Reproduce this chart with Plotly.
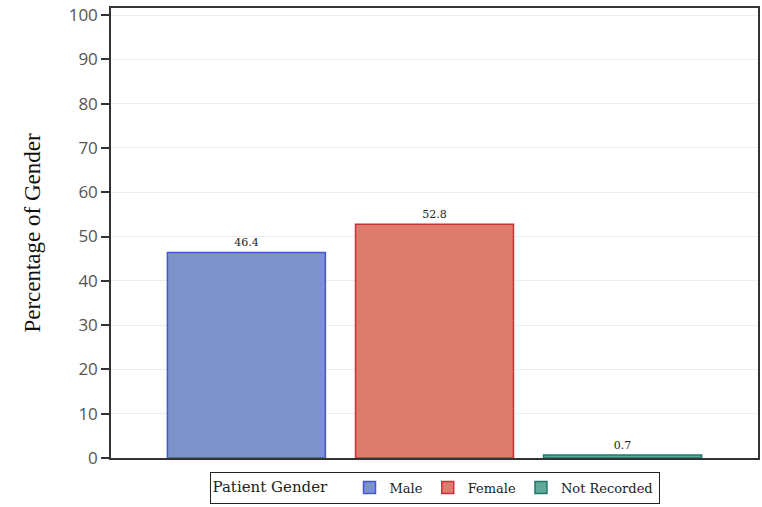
import plotly.graph_objects as go

categories = ["Male", "Female", "Not Recorded"]
percentages = [46.4, 52.8, 0.7]
fill_colors = ["#7b93c9", "#dd7b6c", "#5ea99a"]
line_colors = ["#4453e0", "#c8303a", "#217a68"]
y_ticks = [0, 10, 20, 30, 40, 50, 60, 70, 80, 90, 100]

fig = go.Figure()
for i, (cat, val) in enumerate(zip(categories, percentages)):
    fig.add_trace(go.Bar(
        x=[i], y=[val], name=cat,
        marker=dict(color=fill_colors[i], line=dict(color=line_colors[i], width=1.5)),
        text=[f"{val:.1f}"], textposition="outside", cliponaxis=False,
        textfont=dict(family="DejaVu Serif", size=11, color="#222"),
        width=0.84,
    ))

fig.update_layout(
    width=762, height=507,
    margin=dict(l=111, r=4, t=8, b=49, autoexpand=False),
    plot_bgcolor="white", paper_bgcolor="white",
    barmode="overlay",
    showlegend=True,
    legend=dict(
        orientation="h", x=0.5, xanchor="center", y=-0.03, yanchor="top",
        bordercolor="#222", borderwidth=1,
        title=dict(text="Patient Gender   ", font=dict(family="DejaVu Serif", size=15, color="#222")),
        font=dict(family="DejaVu Serif", size=13, color="#222"),
        itemwidth=30, tracegroupgap=0,
    ),
    xaxis=dict(
        range=[-0.72, 2.72], showticklabels=False, ticks="",
        showgrid=False, zeroline=False, automargin=False,
        showline=True, linecolor="#333", linewidth=1.5, mirror=True,
    ),
    yaxis=dict(
        range=[0, 101.6], tickvals=y_ticks, automargin=False,
        ticks="outside", ticklen=8, tickcolor="#333", tickwidth=1.5,
        tickfont=dict(family="Open Sans", size=17, color="#555"),
        showgrid=True, gridcolor="#ededed", gridwidth=1,
        zeroline=False,
        showline=True, linecolor="#333", linewidth=1.5, mirror=True,
        title=dict(text="Percentage of Gender", font=dict(family="Liberation Serif", size=23, color="#111"), standoff=22),
    ),
)

fig.write_html(
    "out.html",
    config={"displayModeBar": False},
    post_script="document.body.style.margin='0';document.body.style.overflow='hidden';",
)
